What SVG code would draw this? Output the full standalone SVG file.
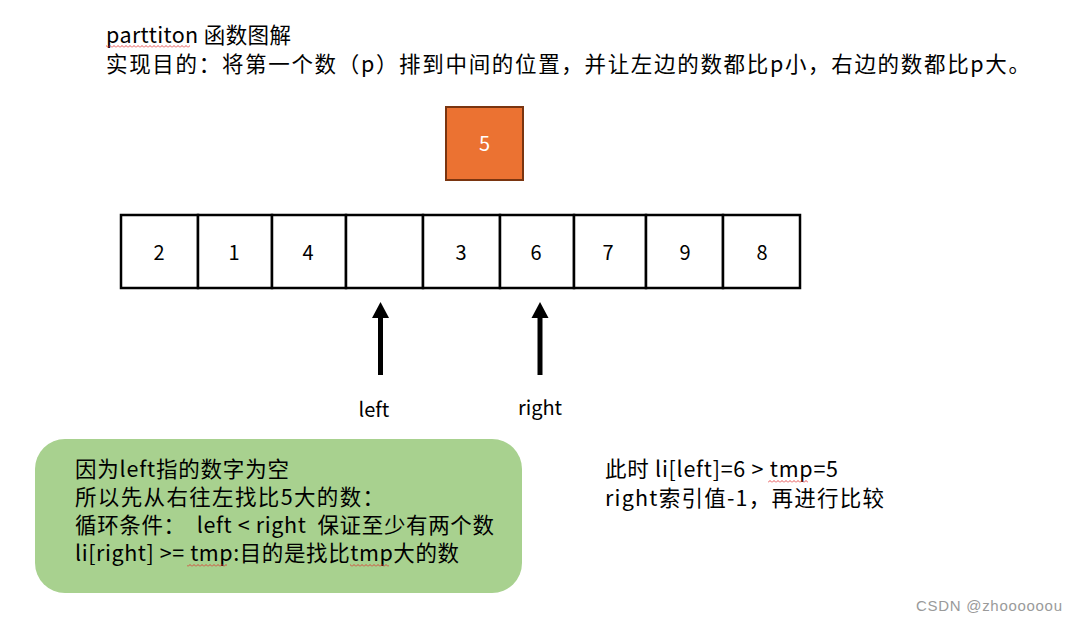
<svg xmlns="http://www.w3.org/2000/svg" width="1076" height="622" viewBox="0 0 1076 622">
<style>
text{font-family:"Noto Sans CJK SC","Noto Sans",sans-serif;fill:#000}
.t{font-size:21.5px}
.cell{fill:#fff;stroke:#000;stroke-width:2.5}
.num{font-size:20px;text-anchor:middle}
.lbl{font-size:20px;text-anchor:middle}
.wm{font-size:15px;fill:#9a9a9a;font-family:"Liberation Sans",sans-serif}
</style>
<defs>
<pattern id="wave" width="4" height="3" patternUnits="userSpaceOnUse">
<path d="M0 2.5 L2 0.5 L4 2.5" stroke="#e02828" fill="none" stroke-width="0.8"/>
</pattern>
</defs>
<rect width="1076" height="622" fill="#fff"/>
<g id="title">
<text class="t" x="106" y="43" textLength="185" lengthAdjust="spacing">parttiton 函数图解</text>
<text class="t" x="106" y="72" textLength="924" lengthAdjust="spacing">实现目的：将第一个数（p）排到中间的位置，并让左边的数都比p小，右边的数都比p大。</text>
<rect x="106" y="45" width="84" height="3" fill="url(#wave)"/>
</g>
<g id="pivot">
<rect x="446" y="107" width="77" height="73" fill="#EB7232" stroke="#7A3510" stroke-width="2"/>
<text x="484.5" y="151" style="font-size:20px;fill:#fff;text-anchor:middle">5</text>
</g>
<g id="array">
<rect class="cell" x="121" y="215" width="77" height="73"/>
<rect class="cell" x="198" y="215" width="74" height="73"/>
<rect class="cell" x="272" y="215" width="74" height="73"/>
<rect class="cell" x="346" y="215" width="77" height="73"/>
<rect class="cell" x="423" y="215" width="77" height="73"/>
<rect class="cell" x="500" y="215" width="74" height="73"/>
<rect class="cell" x="574" y="215" width="72" height="73"/>
<rect class="cell" x="646" y="215" width="77" height="73"/>
<rect class="cell" x="723" y="215" width="77" height="73"/>
<text class="num" x="159" y="260">2</text>
<text class="num" x="234" y="260">1</text>
<text class="num" x="308" y="260">4</text>
<text class="num" x="461" y="260">3</text>
<text class="num" x="536" y="260">6</text>
<text class="num" x="608" y="260">7</text>
<text class="num" x="685" y="260">9</text>
<text class="num" x="762" y="260">8</text>
</g>
<g id="connectors">
<line x1="380.5" y1="375" x2="380.5" y2="318" stroke="#000" stroke-width="5"/>
<path d="M372 318 L380.5 302 L389 318 Z" fill="#000"/>
<line x1="540" y1="375" x2="540" y2="318" stroke="#000" stroke-width="5"/>
<path d="M531.5 318 L540 302 L548.5 318 Z" fill="#000"/>
</g>
<g id="pointer-left">
<text class="lbl" x="374" y="417">left</text>
</g>
<g id="pointer-right">
<text class="lbl" x="540" y="415">right</text>
</g>
<g id="note">
<rect x="35" y="439" width="487" height="154" rx="30" ry="30" fill="#A8D18F"/>
<text class="t" x="75" y="477" textLength="214" lengthAdjust="spacing">因为left指的数字为空</text>
<text class="t" x="75" y="505" textLength="309" lengthAdjust="spacing">所以先从右往左找比5大的数：</text>
<text class="t" x="75" y="533" xml:space="preserve" textLength="419" lengthAdjust="spacing">循环条件：  left &lt; right  保证至少有两个数</text>
<text class="t" x="75" y="561" textLength="384" lengthAdjust="spacing">li[right] &gt;= tmp:目的是找比tmp大的数</text>
<rect x="187" y="564" width="40" height="3" fill="url(#wave)"/>
<rect x="350" y="564" width="39" height="3" fill="url(#wave)"/>
</g>
<g id="status">
<text class="t" x="605" y="477" textLength="233" lengthAdjust="spacing">此时 li[left]=6 &gt; tmp=5</text>
<text class="t" x="605" y="506" textLength="279" lengthAdjust="spacing">right索引值-1，再进行比较</text>
<rect x="768" y="480" width="40" height="3" fill="url(#wave)"/>
</g>
<text class="wm" x="916" y="611" textLength="146" lengthAdjust="spacing">CSDN @zhoooooou</text>
</svg>
